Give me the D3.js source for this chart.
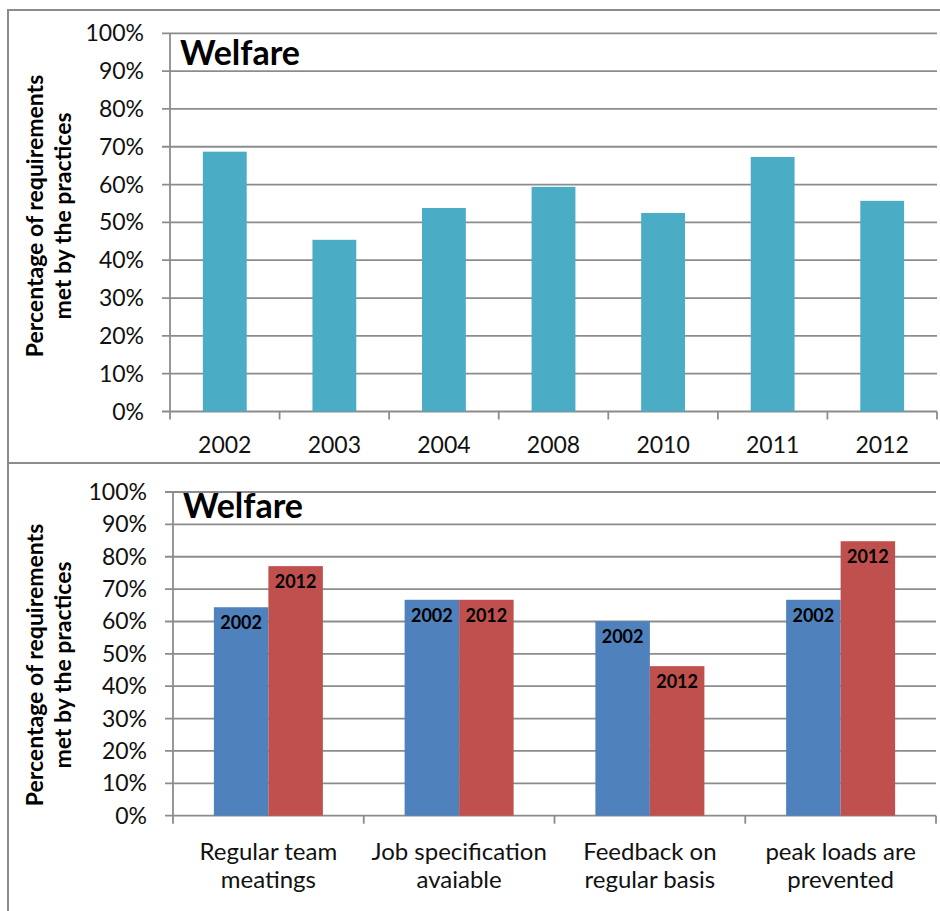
<!DOCTYPE html>
<html>
<head>
<meta charset="utf-8">
<script src="https://cdn.jsdelivr.net/npm/d3@7"></script>
<style>
  html, body { margin: 0; padding: 0; background: #fff; }
  svg { display: block; font-family: Lato, "Noto Sans", sans-serif; }
</style>
</head>
<body>
<svg id="chart" width="940" height="911"></svg>
<script>
// Welfare: share of requirements met, by survey year
const years = ["2002", "2003", "2004", "2008", "2010", "2011", "2012"];
const welfareByYear = [68.7, 45.4, 53.8, 59.4, 52.5, 67.3, 55.7];

// Welfare: individual practices, 2002 vs 2012
const practices = [
  ["Regular team", "meatings"],
  ["Job specification", "avaiable"],
  ["Feedback on", "regular basis"],
  ["peak loads are", "prevented"]
];
const seriesNames = ["2002", "2012"];
const values2002 = [64.4, 66.7, 60.1, 66.7];
const values2012 = [77.1, 66.7, 46.2, 84.8];

const yTicks = [0, 10, 20, 30, 40, 50, 60, 70, 80, 90, 100];
const chartTitle = "Welfare";
const axisTitle = ["Percentage of requirements", "met by the practices"];

const svg = d3.select("#chart");
const GRID = "#8c8c8c";

// panel frames
svg.append("rect").attr("x", 8).attr("y", 10).attr("width", 960).attr("height", 453)
  .attr("fill", "none").attr("stroke", "#8c8c8c").attr("stroke-width", 2);
svg.append("rect").attr("x", 8).attr("y", 463).attr("width", 960).attr("height", 480)
  .attr("fill", "none").attr("stroke", "#8c8c8c").attr("stroke-width", 2);

function drawFrame(g, x0, x1, y, cats, tickFont) {
  // horizontal gridlines
  g.selectAll("line.grid").data(yTicks).join("line")
    .attr("class", "grid")
    .attr("x1", x0 - 8).attr("x2", x1)
    .attr("y1", d => y(d)).attr("y2", d => y(d))
    .attr("stroke", GRID).attr("stroke-width", 1.8);
  // y axis line
  g.append("line").attr("x1", x0).attr("x2", x0)
    .attr("y1", y(100)).attr("y2", y(0))
    .attr("stroke", GRID).attr("stroke-width", 1.8);
  // y tick labels
  g.selectAll("text.ytick").data(yTicks).join("text")
    .attr("class", "ytick")
    .attr("x", x0 - 26).attr("y", d => y(d) + 8)
    .attr("text-anchor", "end")
    .attr("font-size", tickFont)
    .attr("fill", "#111")
    .text(d => d + "%");
  // category boundary ticks
  const step = (x1 - x0) / cats;
  g.selectAll("line.xtick").data(d3.range(cats + 1)).join("line")
    .attr("class", "xtick")
    .attr("x1", i => x0 + i * step).attr("x2", i => x0 + i * step)
    .attr("y1", y(0)).attr("y2", y(0) + 8)
    .attr("stroke", GRID).attr("stroke-width", 1.8);
}

function drawTitles(g, x0, y, titleBaseline, axisCenter) {
  g.append("text")
    .attr("x", x0 + 10).attr("y", titleBaseline)
    .attr("font-size", 34).attr("font-weight", "bold").attr("fill", "#000")
    .text(chartTitle);
  const t = g.append("text")
    .attr("transform", `translate(0,${axisCenter}) rotate(-90)`)
    .attr("text-anchor", "middle")
    .attr("font-size", 23).attr("font-weight", "bold").attr("fill", "#000");
  t.append("tspan").attr("x", 0).attr("y", 43).text(axisTitle[0]);
  t.append("tspan").attr("x", 0).attr("y", 71).text(axisTitle[1]);
}

// ---- top chart: welfare by year ----
{
  const g = svg.append("g");
  const x0 = 170, x1 = 937;
  const y = d3.scaleLinear().domain([0, 100]).range([411.5, 33.3]);
  const x = d3.scaleBand().domain(years).range([x0, x1]).paddingInner(0.6).paddingOuter(0.3);

  drawFrame(g, x0, x1, y, years.length, 23);

  g.selectAll("rect.bar").data(years).join("rect")
    .attr("class", "bar")
    .attr("x", d => x(d)).attr("width", x.bandwidth())
    .attr("y", (d, i) => y(welfareByYear[i]))
    .attr("height", (d, i) => y(0) - y(welfareByYear[i]))
    .attr("fill", "#4bacc6");

  const xa = d3.scaleBand().domain(years).range([x0, x1]);
  g.selectAll("text.xlab").data(years).join("text")
    .attr("class", "xlab")
    .attr("x", d => xa(d) + xa.bandwidth() / 2).attr("y", 453)
    .attr("text-anchor", "middle").attr("font-size", 23).attr("fill", "#111")
    .text(d => d);

  drawTitles(g, x0, y, 65, 216);
}

// ---- bottom chart: practices 2002 vs 2012 ----
{
  const g = svg.append("g");
  const x0 = 173, x1 = 936;
  const y = d3.scaleLinear().domain([0, 100]).range([815.7, 492]);
  const keys = practices.map(p => p.join(" "));
  const x = d3.scaleBand().domain(keys).range([x0, x1]);
  const xs = d3.scaleBand().domain(seriesNames).range([0, x.bandwidth()])
    .paddingInner(0).paddingOuter(0.75);
  const colors = { "2002": "#4f81bd", "2012": "#c0504d" };

  drawFrame(g, x0, x1, y, keys.length, 23);

  const rows = keys.map((k, i) => ({ key: k, vals: [
    { s: "2002", v: values2002[i] }, { s: "2012", v: values2012[i] }
  ] }));

  const grp = g.selectAll("g.cat").data(rows).join("g")
    .attr("class", "cat")
    .attr("transform", d => `translate(${x(d.key)},0)`);

  grp.selectAll("rect").data(d => d.vals).join("rect")
    .attr("x", d => xs(d.s)).attr("width", xs.bandwidth())
    .attr("y", d => y(d.v)).attr("height", d => y(0) - y(d.v))
    .attr("fill", d => colors[d.s]);

  grp.selectAll("text.val").data(d => d.vals).join("text")
    .attr("class", "val")
    .attr("x", d => xs(d.s) + xs.bandwidth() / 2)
    .attr("y", d => y(d.v) + 22)
    .attr("text-anchor", "middle").attr("font-size", 18).attr("font-weight", "bold")
    .attr("fill", "#000")
    .text(d => d.s);

  const lab = g.selectAll("text.xlab").data(practices).join("text")
    .attr("class", "xlab")
    .attr("text-anchor", "middle").attr("font-size", 24).attr("fill", "#111");
  lab.each(function (d, i) {
    const cx = x(keys[i]) + x.bandwidth() / 2;
    d3.select(this).selectAll("tspan").data(d).join("tspan")
      .attr("x", cx).attr("y", (t, j) => 860 + j * 28).text(t => t);
  });

  drawTitles(g, x0, y, 518, 665);
}
</script>
</body>
</html>
